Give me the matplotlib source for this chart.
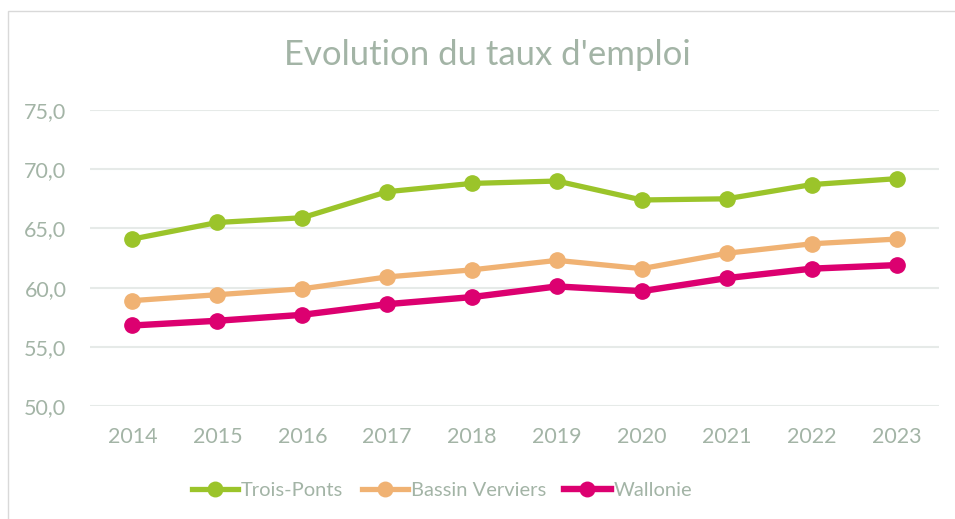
import matplotlib.pyplot as plt
from matplotlib.patches import Rectangle

# Data
years = ['2014', '2015', '2016', '2017', '2018', '2019', '2020', '2021', '2022', '2023']
trois_ponts = [64.1, 65.5, 65.9, 68.1, 68.8, 69.0, 67.4, 67.5, 68.7, 69.2]
bassin_verviers = [58.9, 59.4, 59.9, 60.9, 61.5, 62.3, 61.6, 62.9, 63.7, 64.1]
wallonie = [56.8, 57.2, 57.7, 58.6, 59.2, 60.1, 59.7, 60.8, 61.6, 61.9]
yticks = [50, 55, 60, 65, 70, 75]

text_col = '#A3B4A6'
grid_col = '#E6EAE8'

plt.rcParams['font.family'] = ['Lato', 'DejaVu Sans']

fig = plt.figure(figsize=(9.55, 5.19), dpi=100)
W, H = 955, 519

# chart frame (only left and top edges visible in the crop)
fig.patches.append(Rectangle((8 / W, -0.2), 1.2, 1.2 - 11 / H,
                             transform=fig.transFigure, fill=False,
                             edgecolor='#D9D9D9', linewidth=1.0))

ax = fig.add_axes([90 / W, 1 - 406 / H, (939 - 90) / W, (406 - 110) / H])

x = range(len(years))
ax.plot(x, trois_ponts, color='#9BC42A', lw=3.8, marker='o', ms=11, label='Trois-Ponts')
ax.plot(x, bassin_verviers, color='#F0B273', lw=3.8, marker='o', ms=11, label='Bassin Verviers')
ax.plot(x, wallonie, color='#DC0070', lw=4.6, marker='o', ms=11, label='Wallonie')

ax.set_xlim(-0.5, len(years) - 0.5)
ax.set_ylim(50, 75)
ax.set_xticks(list(x))
ax.set_xticklabels(years)
ax.set_yticks(yticks)
ax.set_yticklabels([f'{v:.1f}'.replace('.', ',') for v in yticks])
ax.tick_params(length=0, colors=text_col, labelsize=15.5)
ax.tick_params(axis='y', pad=17)
ax.tick_params(axis='x', pad=15)
ax.grid(axis='y', color=grid_col, lw=1.5)
ax.set_axisbelow(True)
for s in ax.spines.values():
    s.set_visible(False)

fig.text(487 / W, 1 - 55 / H, "Evolution du taux d'emploi", ha='center', va='center',
         fontsize=25, color=text_col)

fig.legend(loc='center', bbox_to_anchor=(442 / W, 1 - 490 / H), ncol=3, frameon=False,
           fontsize=14.5, labelcolor=text_col, handlelength=2.3, handletextpad=0.15,
           columnspacing=0.9, markerscale=0.95)

plt.savefig('out.png', dpi=100)
